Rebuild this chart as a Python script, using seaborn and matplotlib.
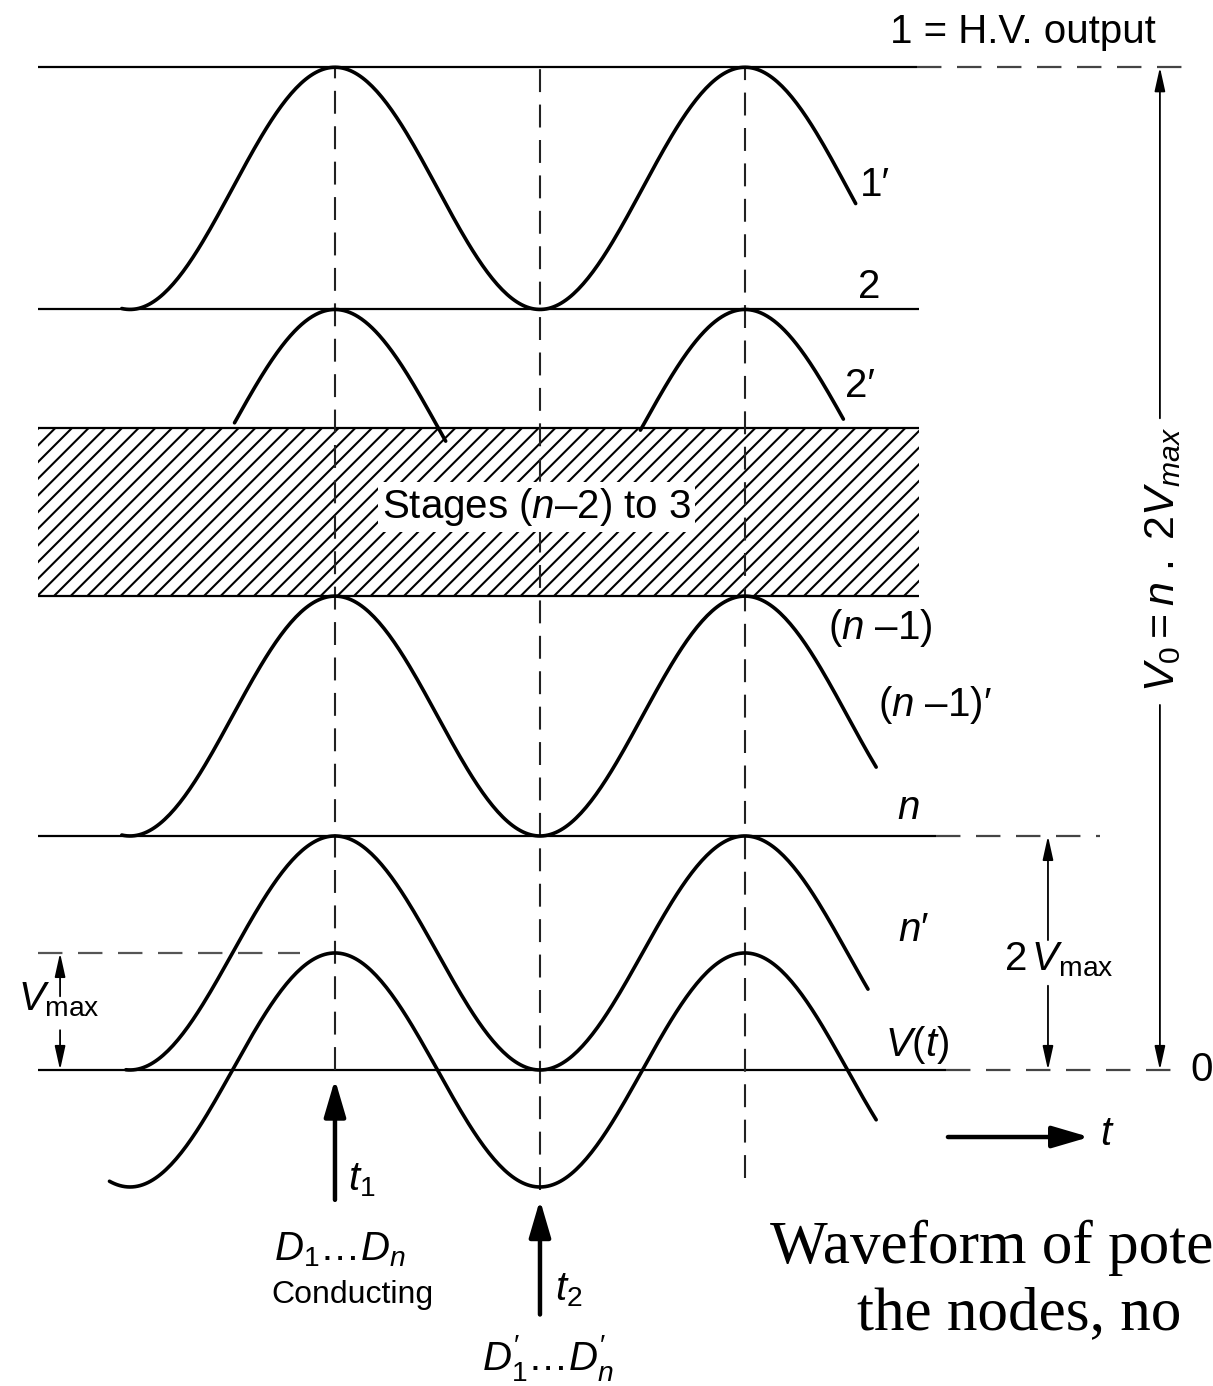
import numpy as np
import pandas as pd
import matplotlib
matplotlib.use("Agg")
import matplotlib.pyplot as plt
import seaborn as sns

# ── Values
# time in half-cycles of the supply (t1 = 1, t2 = 2), voltage in units of Vmax
T_MARKS      = [1.0, 2.0, 3.0]            # crest / trough instants (dashed markers)
MARK_TOP     = [8.57, 8.57, 8.57]
MARK_BOTTOM  = [0.00, -1.03, -0.92]

LEVEL_NAMES  = ["1", "2", "stack top", "n-1", "n", "0"]
LEVEL_V      = [8.57, 6.50, 5.49, 4.05, 2.00, 0.00]
LEVEL_START  = [-0.45, -0.45, -0.45, -0.45, -0.45, -0.45]
SOLID_END    = [3.84, 3.85, 3.85, 3.85, 3.93, 3.98]
DASH_END     = [5.17, np.nan, np.nan, np.nan, 4.73, 5.12]

VMAX_LINE    = [-0.45, 0.83]              # dashed reference at +Vmax

# node waveforms: trough level, crest level, drawn from / to
CURVE_NAMES  = ["1'", "2' (a)", "2' (b)", "(n-1)'", "n'", "V(t)"]
CURVE_LOW    = [6.50, 4.50, 4.50, 2.00, 0.00, -1.00]
CURVE_HIGH   = [8.57, 6.50, 6.50, 4.05, 2.00, 1.00]
CURVE_START  = [-0.04, 0.51, 2.49, -0.04, -0.02, -0.10]
CURVE_END    = [3.54, 1.54, 3.48, 3.64, 3.60, 3.64]

STACK_BAND   = [4.05, 5.49]               # hatched "Stages (n-2) to 3"

# ── Build waveform table
rows = []
for name, lo, hi, t0, t1 in zip(CURVE_NAMES, CURVE_LOW, CURVE_HIGH, CURVE_START, CURVE_END):
    t = np.linspace(t0, t1, 300)
    v = lo + (hi - lo) * (1 + np.cos(np.pi * (t - 1))) / 2
    rows.append(pd.DataFrame({"t": t, "v": v, "curve": name}))
waves = pd.concat(rows, ignore_index=True)

# ── Style
sns.set_theme(style="white")
plt.rcParams["font.family"] = ["Liberation Sans", "DejaVu Sans"]
plt.rcParams["text.color"] = "black"
plt.rcParams["mathtext.fontset"] = "custom"
plt.rcParams["mathtext.rm"] = "Liberation Sans"
plt.rcParams["mathtext.it"] = "Liberation Sans:italic"
plt.rcParams["mathtext.bf"] = "Liberation Sans:bold"
plt.rcParams["hatch.linewidth"] = 1.5

fig = plt.figure(figsize=(12.13, 13.86), dpi=100)
ax = fig.add_axes([0, 0, 1, 1])
ax.set_xlim(-0.634, 5.283)
ax.set_ylim(-2.701, 9.145)
ax.axis("off")

# hatched band for the middle stages
ax.fill_between([LEVEL_START[0], SOLID_END[2]], STACK_BAND[0], STACK_BAND[1],
                facecolor="white", edgecolor="black", hatch="//", linewidth=0, zorder=1)

# level lines
ax.hlines(LEVEL_V, LEVEL_START, SOLID_END, colors="black", lw=1.6, zorder=2)
for lv, s, e in zip(LEVEL_V, SOLID_END, DASH_END):
    if not np.isnan(e):
        ax.hlines(lv, s, e, colors="#444444", lw=1.6, linestyles=(0, (11, 7)), zorder=2)
ax.hlines(1.0, VMAX_LINE[0], VMAX_LINE[1], colors="#555555", lw=1.6,
          linestyles=(0, (11, 7)), zorder=2)

# dashed time markers
ax.vlines(T_MARKS, MARK_BOTTOM, MARK_TOP, colors="#222222", lw=1.5,
          linestyles=(0, (11, 6)), zorder=2)

# waveforms
sns.lineplot(data=waves, x="t", y="v", units="curve", estimator=None, sort=False,
             color="black", lw=2.6, ax=ax, zorder=3)
ax.set_xlabel(""); ax.set_ylabel("")

# ── Arrows
thin = dict(arrowstyle="-|>,head_length=0.9,head_width=0.2", color="black",
            lw=1.3, mutation_scale=16, shrinkA=0, shrinkB=0)
thick = dict(arrowstyle="-|>,head_length=0.75,head_width=0.22", color="black",
             lw=3.2, mutation_scale=30, shrinkA=0, shrinkB=0)

def arrow(xy_from, xy_to, style):
    ax.annotate("", xy=xy_to, xytext=xy_from, arrowprops=style, zorder=4)

# V0 = n.2Vmax
arrow((5.024, 5.57), (5.024, 8.57), thin)
arrow((5.024, 3.12), (5.024, 0.0), thin)
# 2 Vmax
arrow((4.478, 1.11), (4.478, 2.0), thin)
arrow((4.478, 0.72), (4.478, 0.0), thin)
# Vmax
arrow((-0.341, 0.63), (-0.341, 1.0), thin)
arrow((-0.341, 0.34), (-0.341, 0.0), thin)
# t1, t2, time direction
arrow((1.0, -1.11), (1.0, -0.08), thick)
arrow((2.0, -2.09), (2.0, -1.11), thick)
arrow((3.99, -0.573), (4.68, -0.573), thick)

# ── Labels
fs = 29
ax.text(3.707, 8.87, "1 = H.V. output", fontsize=fs, va="center")
ax.text(3.561, 7.56, "1′", fontsize=fs, va="center")
ax.text(3.551, 6.69, "2", fontsize=fs, va="center")
ax.text(3.488, 5.85, "2′", fontsize=fs, va="center")
ax.text(1.985, 4.81, "Stages ($n$–2) to 3", fontsize=fs, ha="center", va="center",
        bbox=dict(facecolor="white", edgecolor="none", pad=3), zorder=5)
ax.text(3.405, 3.78, "($n$ –1)", fontsize=fs, va="center")
ax.text(3.649, 3.12, "($n$ –1)′", fontsize=fs, va="center")
ax.text(3.795, 2.24, "$n$", fontsize=fs, ha="center", va="center")
ax.text(3.746, 1.20, "$n$′", fontsize=fs, va="center")
ax.text(4.262, 0.94, r"2$\,V_{\mathrm{max}}$", fontsize=fs, va="center")
ax.text(3.683, 0.21, "$V(t)$", fontsize=fs, va="center")
ax.text(5.171, 0.0, "0", fontsize=fs, va="center")
ax.text(4.732, -0.55, "$t$", fontsize=fs, va="center")
ax.text(-0.546, 0.60, r"$V_{\mathrm{max}}$", fontsize=fs, va="center")
ax.text(5.039, 4.36, r"$V_0 = n\ .\ 2V_{max}$", fontsize=31, rotation=90,
        ha="center", va="center")
ax.text(1.063, -0.94, "$t_1$", fontsize=fs, va="center")
ax.text(1.024, -1.54, "$D_1$…$D_n$", fontsize=29, ha="center", va="center")
ax.text(1.083, -1.92, "Conducting", fontsize=23, ha="center", va="center")
ax.text(2.073, -1.88, "$t_2$", fontsize=fs, va="center")
ax.text(2.039, -2.46, "$D_1'$…$D_n'$", fontsize=29, ha="center", va="center")

# caption (reaches the right edge in the source)
ax.text(3.122, -1.52, "Waveform of pote", fontsize=44, family="Liberation Serif",
        va="center")
ax.text(3.546, -2.09, "the nodes, no", fontsize=44, family="Liberation Serif",
        va="center")

fig.savefig("out.png", dpi=100)
